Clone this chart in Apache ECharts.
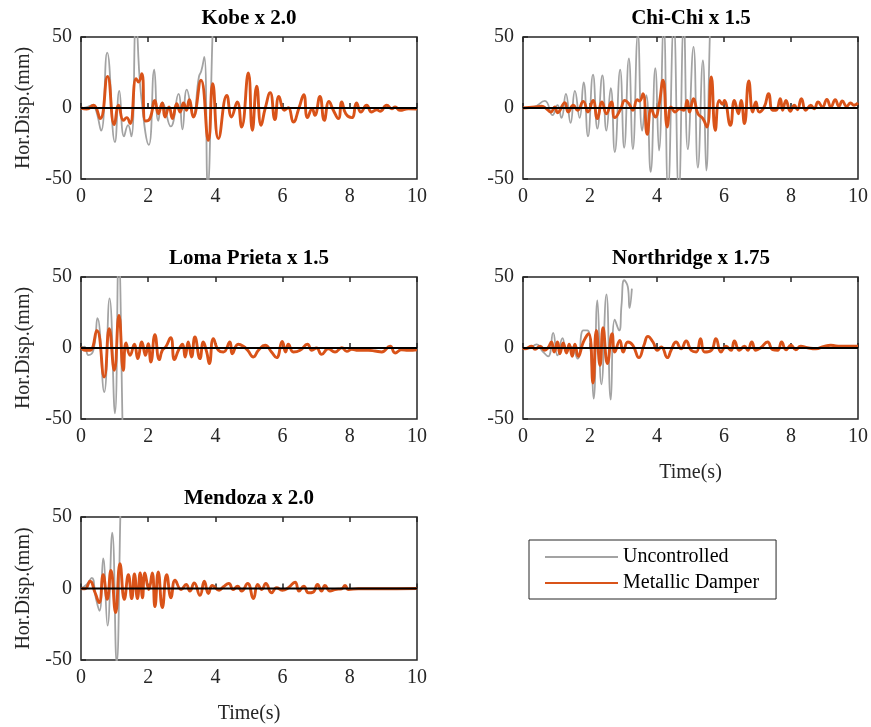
<!DOCTYPE html>
<html><head><meta charset="utf-8">
<script src="https://cdn.jsdelivr.net/npm/echarts@6/dist/echarts.min.js"></script>
<style>html,body{margin:0;padding:0;background:#fff}#c{width:871px;height:727px}</style>
</head><body><div id="c"></div>
<script>
// ---- Data (time s, displacement mm) ----
const titles = ['Kobe x 2.0', 'Chi-Chi x 1.5', 'Loma Prieta x 1.5', 'Northridge x 1.75', 'Mendoza x 2.0'];
const xTicks = [0, 2, 4, 6, 8, 10];
const yTicks = [-50, 0, 50];

const kobeUnc = [[0,0],[0.15,0.5],[0.35,2],[0.45,-2],[0.6,-16],[0.78,39],[1.01,-24],[1.14,12],[1.28,-20],[1.4,-12],[1.5,-20],[1.64,62],[1.78,11],[2.02,-26],[2.18,27],[2.3,-9],[2.42,4],[2.67,-13],[2.9,10],[3.02,-15],[3.15,13],[3.34,-5],[3.51,22],[3.58,26],[3.67,36],[3.77,-55],[3.94,70],[4.0,90]];
const kobeDmp = [[0,0],[0.17,-0.7],[0.37,1.9],[0.57,-7.5],[0.79,22.3],[0.99,-11.7],[1.12,1.9],[1.26,-8.7],[1.36,-6.8],[1.46,-11],[1.64,20.7],[1.71,18.3],[1.81,24.2],[1.92,-9.2],[2.05,-7.5],[2.2,5.4],[2.3,-4],[2.42,3.5],[2.5,-6.3],[2.62,0.7],[2.72,-7.5],[2.85,3],[2.95,-2.8],[3.05,3.5],[3.14,-1.6],[3.22,5.9],[3.34,-6.3],[3.57,19.5],[3.79,-22.8],[3.92,17.1],[4.09,-21.6],[4.34,8.9],[4.48,-6.3],[4.65,4.2],[4.78,-13.4],[4.98,24.6],[5.1,-15.7],[5.23,15.3],[5.36,-12.2],[5.48,-0.5],[5.63,10.8],[5.77,-8.2],[5.89,8.2],[6.05,-1.6],[6.17,0.2],[6.32,-9.9],[6.49,0.2],[6.63,9.4],[6.74,-6.8],[6.88,-0.5],[6.96,-5.2],[7.11,8.2],[7.24,-8.7],[7.38,4.7],[7.51,-1.6],[7.66,-7.5],[7.76,4.2],[7.88,-4],[8.06,-6.8],[8.2,3.5],[8.33,-2.8],[8.5,1.9],[8.65,-2.8],[8.8,-1.2],[8.9,-2.3],[9.1,1.9],[9.25,-0.5],[9.35,0.7],[9.49,-1.6],[9.74,-0.5],[10,-0.7]];

const chichiUnc = [[0,0],[0.3,0.5],[0.65,5],[0.88,-5],[1.03,2],[1.15,-7],[1.28,10],[1.42,-10.5],[1.55,12],[1.69,-7],[1.81,18],[1.94,-20],[2.09,23.5],[2.22,-14.5],[2.37,23],[2.49,-16],[2.62,14],[2.74,-31],[2.9,27],[3.02,-28],[3.16,35],[3.28,-29],[3.43,52],[3.56,-16],[3.68,9],[3.81,-45],[3.95,28],[4.06,-30],[4.2,58],[4.33,-58],[4.5,60],[4.65,-60],[4.8,60],[4.92,-29],[5.09,43],[5.22,-42],[5.37,33.5],[5.47,-44],[5.59,60],[5.65,80]];
const chichiDmp = [[0,0],[0.36,0.7],[0.56,1.2],[0.7,-0.5],[0.83,-2.8],[0.95,0.7],[1.03,-3.3],[1.25,3.8],[1.35,-2.8],[1.5,1.9],[1.63,-1.6],[1.8,4.7],[1.94,-2.8],[2.09,5.4],[2.22,-7.5],[2.36,4.2],[2.49,-4],[2.64,4.2],[2.74,-6.8],[2.92,-0.5],[3.04,5.4],[3.16,3],[3.28,-1.6],[3.41,5.9],[3.48,4.9],[3.58,10.1],[3.71,-18.5],[3.83,-0.5],[3.95,-6.3],[4.05,0.7],[4.18,19.5],[4.31,-13.4],[4.42,0.7],[4.54,-2.8],[4.67,-0.5],[4.8,-1.6],[4.9,5.4],[4.97,-2.8],[5.09,6.6],[5.22,-4],[5.37,-7.5],[5.49,-13.4],[5.62,21.8],[5.74,-15.7],[5.86,5.4],[5.96,2.6],[6.01,5.4],[6.19,-12.2],[6.31,5.4],[6.43,-4],[6.51,5.4],[6.61,-11],[6.74,19],[6.86,-2.8],[6.95,4.2],[7.05,-2.8],[7.2,0.7],[7.33,10.1],[7.45,-1.6],[7.55,-1.6],[7.68,6.6],[7.75,-1.6],[7.85,5.4],[7.98,-2.3],[8.1,1.9],[8.19,-1.2],[8.31,6.6],[8.44,-1.6],[8.59,1.9],[8.69,-0.5],[8.81,4.2],[8.94,0.7],[9.07,6.1],[9.19,0.7],[9.32,5.9],[9.43,1.2],[9.53,4.9],[9.66,1.2],[9.78,3.5],[9.88,1.9],[10,3.5]];

const lomaUnc = [[0,0],[0.1,1],[0.22,-5],[0.37,-1.5],[0.49,21],[0.69,-31],[0.85,35],[1.01,-46],[1.12,65],[1.25,-70],[1.27,-90]];
const lomaDmp = [[0,0.7],[0.12,-1.6],[0.27,-1.6],[0.47,12.4],[0.69,-20.4],[0.84,13.6],[0.99,-15.7],[1.13,23],[1.26,-15.7],[1.34,3.5],[1.46,-5.2],[1.59,2.6],[1.69,-7.5],[1.81,4.2],[1.92,-5.2],[2.0,3],[2.08,-9.9],[2.2,9.4],[2.33,-8.2],[2.42,-1.6],[2.52,0.7],[2.67,7.3],[2.78,-8.2],[2.9,-1.6],[3.02,2.6],[3.1,-6.3],[3.19,4.2],[3.29,-6.3],[3.39,7.7],[3.54,-7.5],[3.64,4.2],[3.74,-2.8],[3.82,-11],[3.94,6.6],[4.09,-1.6],[4.24,-2.8],[4.43,4.2],[4.5,-4],[4.68,2.6],[4.83,1.2],[4.96,-1.6],[5.13,-6.3],[5.28,-1.6],[5.48,1.9],[5.67,-2.8],[5.82,-6.8],[5.99,4.7],[6.09,-2.8],[6.17,2.6],[6.32,-2.8],[6.52,-1.6],[6.74,2.6],[6.87,-1.6],[7.01,0],[7.16,-4.5],[7.36,-0.5],[7.56,-2.8],[7.76,0.2],[7.91,-2.3],[8.06,-0.9],[8.25,-1.6],[8.55,-1.6],[8.75,-2.1],[8.95,-2.8],[9.2,1.2],[9.35,-3.5],[9.54,-1.2],[9.74,-1.6],[10,-1.2]];

const northUnc = [[0,0],[0.16,-0.5],[0.41,2.6],[0.56,-1.6],[0.75,-5.9],[0.9,10.6],[1.03,-5.2],[1.18,7],[1.3,-2.8],[1.45,0.7],[1.63,-7.5],[1.8,12.4],[1.92,12.4],[2.02,-1.6],[2.11,-35.7],[2.22,33.6],[2.34,-25.6],[2.49,37.8],[2.62,-36.4],[2.74,20],[2.87,12.4],[2.94,30],[3.02,47.7],[3.13,43],[3.18,28.2],[3.25,41.8]];
const northDmp = [[0,0],[0.06,-0.5],[0.26,1.2],[0.36,-0.9],[0.51,1.2],[0.65,-1.6],[0.75,0.2],[0.85,4.2],[0.93,-2.8],[1.03,4.2],[1.1,-4],[1.2,3.5],[1.3,-3.5],[1.38,2.6],[1.47,-5.9],[1.55,2.6],[1.65,-5.9],[1.8,4.2],[1.96,10.1],[2.09,-24.6],[2.19,12.4],[2.3,-12.2],[2.39,14.3],[2.52,-11],[2.66,10.1],[2.74,-2.8],[2.89,5.4],[2.99,-2.8],[3.13,4.2],[3.28,1.9],[3.46,-6.8],[3.61,1.9],[3.73,8.2],[3.88,4.2],[4.01,-1.6],[4.13,0.7],[4.31,-6.8],[4.42,-1.6],[4.57,4.2],[4.72,-0.5],[4.87,4.9],[5.02,-1.6],[5.17,-2.8],[5.3,6.6],[5.42,-2.8],[5.62,-1.6],[5.76,6.6],[5.91,-2.8],[6.06,1.2],[6.21,-1.6],[6.31,4.9],[6.46,-1.6],[6.61,1.2],[6.71,-1.6],[6.83,4.2],[6.95,-1.6],[7.1,0.2],[7.3,4.2],[7.45,-1.2],[7.6,-1.6],[7.72,4.2],[7.85,-1.2],[8.0,1.9],[8.14,-1.2],[8.29,1.2],[8.49,0.2],[8.74,-0.5],[8.99,1.2],[9.19,1.9],[9.48,1.2],[10,1.2]];

const mendUnc = [[0,0],[0.17,2.8],[0.32,7.4],[0.44,-6.5],[0.55,-15.7],[0.66,21],[0.79,-26],[0.93,39],[1.06,-52],[1.18,60],[1.2,80]];
const mendDmp = [[0,0],[0.12,-0.2],[0.27,5.1],[0.42,-3],[0.54,-9.9],[0.66,9.7],[0.78,-7.6],[0.89,12.7],[1.03,-16.8],[1.16,17.3],[1.29,-7.6],[1.41,9.7],[1.51,-7.1],[1.59,10.1],[1.68,-7.1],[1.76,10.8],[1.83,-6.5],[1.9,10.8],[2.02,-0.7],[2.12,10.8],[2.2,-12.7],[2.3,11.5],[2.42,-13.4],[2.55,9.7],[2.68,-6.5],[2.8,5.8],[2.98,-0.7],[3.13,2.8],[3.24,-1.8],[3.37,3.9],[3.54,-4.8],[3.67,5.1],[3.79,-3.5],[3.91,2.1],[4.11,-1.2],[4.24,1.2],[4.4,3.5],[4.53,-0.7],[4.66,1.6],[4.78,-1.8],[4.96,3.5],[5.13,-7.1],[5.26,2.8],[5.38,-0.7],[5.5,3.5],[5.67,-3],[5.82,0.5],[5.99,-1.2],[6.17,0.5],[6.37,4.4],[6.49,-1.8],[6.63,1.6],[6.77,-3],[6.91,-2.5],[7.04,2.8],[7.16,-1.8],[7.26,2.1],[7.41,-1.8],[7.56,-0.7],[7.76,-0.2],[7.86,2.1],[7.96,-0.7],[8.25,-0.2],[8.75,-0.2],[10,0]];

const zeroLine = [[0,0],[10,0]];
const uncData = [kobeUnc, chichiUnc, lomaUnc, northUnc, mendUnc];
const dmpData = [kobeDmp, chichiDmp, lomaDmp, northDmp, mendDmp];

// ---- Layout ----
const FONT = '"Liberation Serif","Times New Roman",serif';
const AX = '#262626';
const grids = [
  {left: 81, top: 37, width: 336, height: 142},
  {left: 523, top: 37, width: 336, height: 142},
  {left: 81, top: 277, width: 336, height: 142},
  {left: 523, top: 277, width: 336, height: 142},
  {left: 81, top: 517, width: 336, height: 143}
];
const showYName = [true, false, true, false, true];
const showXName = [false, false, false, true, true];

const option = {
  animation: false,
  backgroundColor: '#fff',
  grid: grids.map(g => Object.assign({show: true, borderColor: AX, borderWidth: 1.5, backgroundColor: 'transparent'}, g)),
  xAxis: [],
  yAxis: [],
  series: [],
  legend: {
    data: ['Uncontrolled', 'Metallic Damper'],
    orient: 'vertical',
    left: 529, top: 540,
    itemWidth: 73, itemHeight: 14, itemGap: 6,
    padding: [7, 17, 6, 15],
    borderColor: AX, borderWidth: 1,
    itemStyle: {opacity: 0},
    textStyle: {fontFamily: FONT, fontSize: 20, color: '#000'},
    selectedMode: false
  },
  graphic: []
};

for (let i = 0; i < 5; i++) {
  const g = grids[i];
  option.xAxis.push({
    type: 'value', gridIndex: i, min: xTicks[0], max: xTicks[xTicks.length - 1], interval: xTicks[1] - xTicks[0],
    axisLine: {show: false}, splitLine: {show: false},
    axisTick: {inside: true, length: 5, lineStyle: {color: AX, width: 1.5}},
    axisLabel: {fontFamily: FONT, fontSize: 20, color: AX, margin: 8},
    name: showXName[i] ? 'Time(s)' : '', nameLocation: 'middle', nameGap: 44,
    nameTextStyle: {fontFamily: FONT, fontSize: 20, color: AX}
  });
  option.xAxis.push({
    type: 'value', gridIndex: i, position: 'top', min: xTicks[0], max: xTicks[xTicks.length - 1], interval: xTicks[1] - xTicks[0],
    axisLine: {show: false}, splitLine: {show: false},
    axisTick: {inside: true, length: 5, lineStyle: {color: AX, width: 1.5}},
    axisLabel: {show: false}
  });
  option.yAxis.push({
    type: 'value', gridIndex: i, min: yTicks[0], max: yTicks[yTicks.length - 1], interval: yTicks[1] - yTicks[0],
    axisLine: {show: false}, splitLine: {show: false},
    axisTick: {inside: true, length: 5, lineStyle: {color: AX, width: 1.5}},
    axisLabel: {fontFamily: FONT, fontSize: 20, color: AX, margin: 9},
    name: showYName[i] ? 'Hor.Disp.(mm)' : '', nameLocation: 'middle', nameGap: 47, nameRotate: 90,
    nameTextStyle: {fontFamily: FONT, fontSize: 20, color: AX}
  });
  option.series.push({
    name: 'Uncontrolled', type: 'line', xAxisIndex: 2 * i, yAxisIndex: i,
    data: uncData[i], symbol: 'none', smooth: 0.5, clip: true,
    lineStyle: {color: '#a3a3a3', width: 1.8}, itemStyle: {color: '#a3a3a3'}, z: 2
  });
  option.series.push({
    name: 'Metallic Damper', type: 'line', xAxisIndex: 2 * i, yAxisIndex: i,
    data: dmpData[i], symbol: 'none', smooth: 0.5, clip: true,
    lineStyle: {color: '#D95319', width: 2.9}, itemStyle: {color: '#D95319'}, z: 3
  });
  option.series.push({
    name: 'zero', type: 'line', xAxisIndex: 2 * i, yAxisIndex: i,
    data: zeroLine, symbol: 'none', lineStyle: {color: '#000', width: 2.2}, z: 4, silent: true
  });
  option.graphic.push({
    type: 'text', x: g.left + g.width / 2, y: g.top - 18,
    style: {text: titles[i], font: 'bold 21px ' + FONT, fill: '#000', textAlign: 'center', textVerticalAlign: 'middle'}
  });
}

const chart = echarts.init(document.getElementById('c'), null, {renderer: 'canvas'});
chart.setOption(option);
</script>
</body></html>
